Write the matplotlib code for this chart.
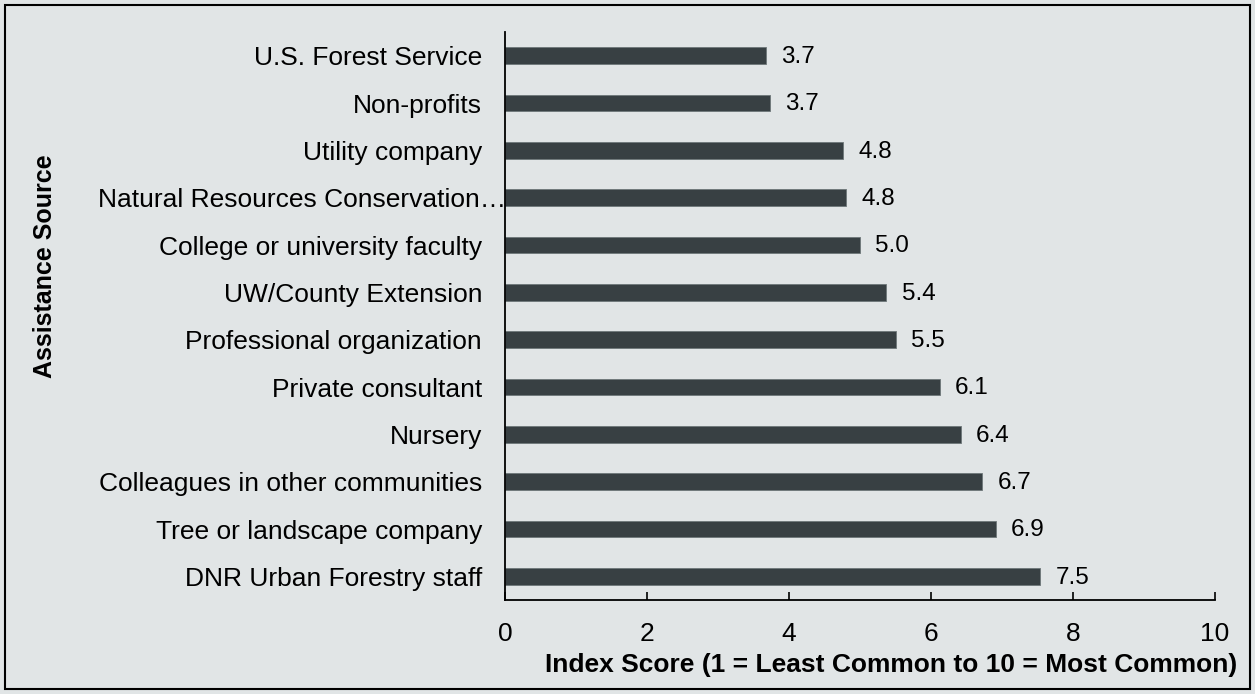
import matplotlib
matplotlib.use("Agg")
import matplotlib.pyplot as plt
from matplotlib.transforms import ScaledTranslation
from matplotlib.patches import Rectangle

categories = [
    "U.S. Forest Service",
    "Non-profits",
    "Utility company",
    "Natural Resources Conservation\u2026",
    "College or university faculty",
    "UW/County Extension",
    "Professional organization",
    "Private consultant",
    "Nursery",
    "Colleagues in other communities",
    "Tree or landscape company",
    "DNR Urban Forestry staff",
]
scores = [3.68, 3.73, 4.76, 4.80, 5.00, 5.37, 5.50, 6.12, 6.42, 6.72, 6.91, 7.54]
xticks = [0, 2, 4, 6, 8, 10]

BG = "#e1e5e6"
BAR = "#384043"

plt.rcParams["font.family"] = ["Liberation Sans", "DejaVu Sans"]

fig = plt.figure(figsize=(12.55, 6.94), dpi=100, facecolor=BG)
ax = fig.add_axes([505/1255, 1-600/694, 710/1255, 568/694])
ax.set_facecolor(BG)

y = list(range(len(categories)))
bars = ax.barh(y, scores, height=0.35, color=BAR, edgecolor="#6e7779", linewidth=0.6)
ax.set_ylim(len(categories) - 0.5, -0.5)
ax.set_xlim(0, 10)
ax.set_yticks(y)
ax.set_yticklabels(categories, fontsize=19, color="black")
ax.tick_params(axis="y", length=0, pad=16.5)
ax.set_xticks(xticks)
ax.set_xticklabels([str(t) for t in xticks], fontsize=19, color="black")
ax.tick_params(axis="x", direction="in", length=6, width=1.2, pad=16, color="black")

for s in ["top", "right"]:
    ax.spines[s].set_visible(False)
for s in ["left", "bottom"]:
    ax.spines[s].set_linewidth(1.3)
    ax.spines[s].set_color("black")

# truncated label extends further right in the reference
lab = ax.get_yticklabels()[3]
lab.set_transform(lab.get_transform() + ScaledTranslation(24/100, 0, fig.dpi_scale_trans))

for b, v in zip(bars, scores):
    ax.annotate(f"{v:.1f}", xy=(v, b.get_y() + b.get_height()/2),
                xytext=(11, -1), textcoords="offset points",
                va="center", ha="left", fontsize=17.5, color="black")

fig.text(45/1255, 1-266/694, "Assistance Source", rotation=90, ha="center", va="center",
         fontsize=18, fontweight="bold", color="black")
fig.text(891/1255, 1-665/694, "Index Score (1 = Least Common to 10 = Most Common)",
         ha="center", va="center", fontsize=19, fontweight="bold", color="black")

fig.patches.append(Rectangle((5/1255, 5/694), 1-10/1255, 1-10/694, transform=fig.transFigure,
                             fill=False, edgecolor="black", linewidth=1.5))

fig.savefig("out.png", dpi=100, facecolor=BG)
